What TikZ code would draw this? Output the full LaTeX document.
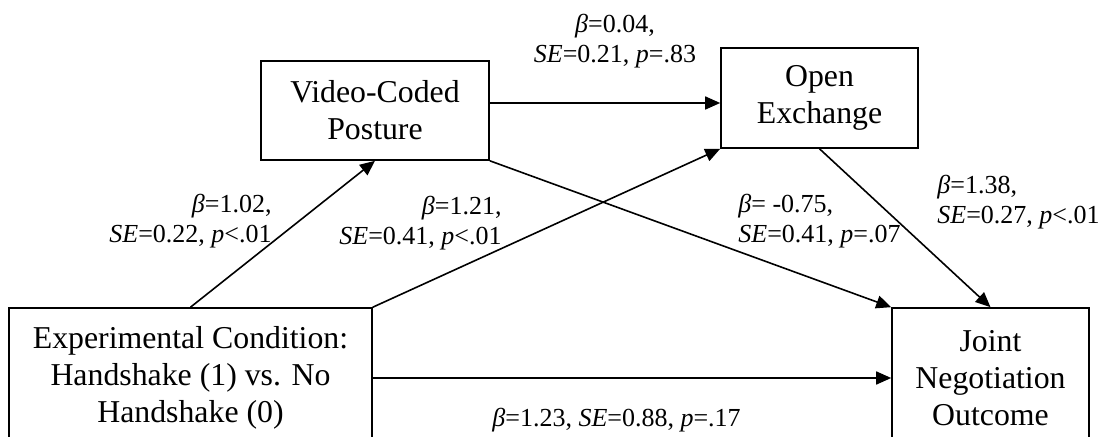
\documentclass[tikz,border=0pt]{standalone}
\usepackage{fontspec}
\setmainfont{Liberation Serif}
\usetikzlibrary{arrows.meta,positioning}

\begin{document}
\begin{tikzpicture}[x=0.5pt,y=-0.5pt,
  box/.style={draw,line width=0.8pt,inner sep=0pt,align=center,font=\fontsize{15.9}{18.5}\selectfont},
  lbl/.style={inner sep=0pt,font=\fontsize{13}{15}\selectfont},
  arr/.style={line width=0.8pt,-{Triangle[length=7.5pt,width=6.5pt]}}]
\useasboundingbox (0,0) rectangle (1106,437);
% Boxes
  \node[box,minimum width=114pt,minimum height=49.5pt] (posture) at (375,110.5) {Video-Coded\\Posture};
  \node[box,minimum width=98.5pt,minimum height=50pt] (exchange) at (819.5,98) {Open\\Exchange};
  \node[box,minimum width=181.5pt,minimum height=70pt] (cond) at (190.5,378) {Experimental Condition:\\Handshake (1) vs. No\\Handshake (0)};
  \node[box,minimum width=98.5pt,minimum height=70pt] (outcome) at (990.5,378) {Joint\\Negotiation\\Outcome};
% Paths
  \draw[arr] (cond.north) -- (posture.south);
  \draw[arr] (cond.north east) -- (exchange.south west);
  \draw[arr] ([yshift=3.75pt]posture.east) -- ([yshift=-2.5pt]exchange.west);
  \draw[arr] (posture.south east) -- (outcome.north west);
  \draw[arr] (exchange.south) -- (outcome.north);
  \draw[arr] (cond.east) -- (outcome.west);
% Coefficients
  \node[lbl,align=center] (b1) at (615,41) {\textit{β}=0.04,\\\textit{SE}=0.21, \textit{p}=.83};
  \node[lbl,align=right,anchor=east] (b2) at (272,221) {\textit{β}=1.02,\\\textit{SE}=0.22, \textit{p}<.01};
  \node[lbl,align=right,anchor=east] (b3) at (502,223) {\textit{β}=1.21,\\\textit{SE}=0.41, \textit{p}<.01};
  \node[lbl,align=left,anchor=west] (b4) at (738,221) {\textit{β}= -0.75,\\\textit{SE}=0.41, \textit{p}=.07};
  \node[lbl,align=left,anchor=west] (b5) at (937,202) {\textit{β}=1.38,\\\textit{SE}=0.27, \textit{p}<.01};
  \node[lbl,anchor=west] (b6) at (492,420) {\textit{β}=1.23, \textit{SE}=0.88, \textit{p}=.17};
\end{tikzpicture}
\end{document}
